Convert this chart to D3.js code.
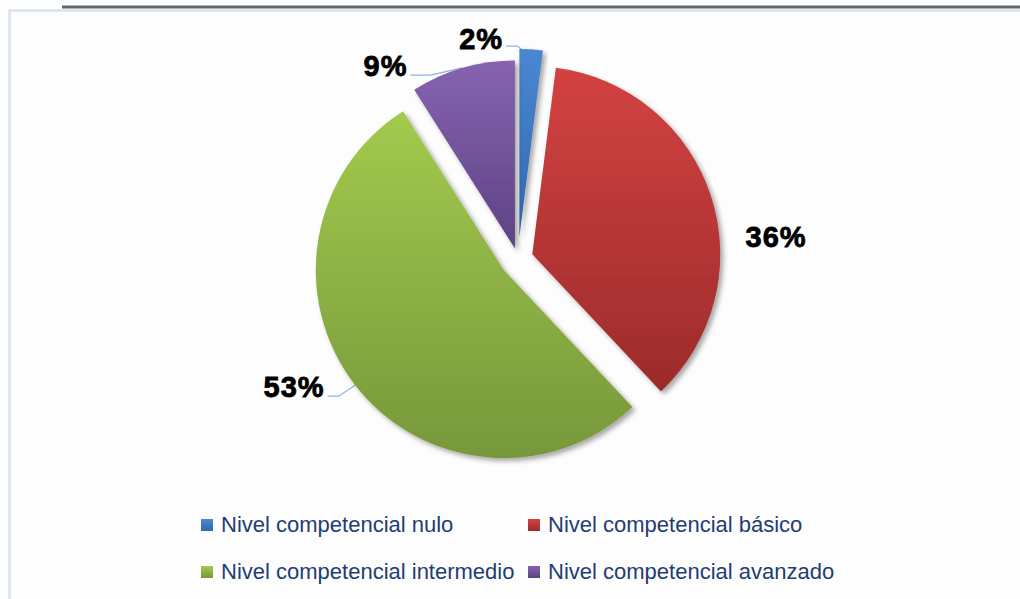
<!DOCTYPE html>
<html>
<head>
<meta charset="utf-8">
<script src="https://cdn.jsdelivr.net/npm/d3@7/dist/d3.min.js"></script>
<style>
  html, body { margin: 0; padding: 0; background: #ffffff; }
  svg { display: block; }
</style>
</head>
<body>
<svg id="chart" width="1020" height="599"></svg>
<script>
// ---- data ----
const categories = [
  "Nivel competencial nulo",
  "Nivel competencial básico",
  "Nivel competencial intermedio",
  "Nivel competencial avanzado"
];
const values = [2, 36, 53, 9];
const valueLabels = ["2%", "36%", "53%", "9%"];

// ---- style / layout (not data) ----
const colorTop    = ["#4b87d2", "#d34242", "#a3ca4e", "#8763b0"];
const colorBottom = ["#2f68b0", "#9c2b2b", "#76983a", "#5d4383"];
const explode     = [22, 15, 18, 11];
// label placement: angle (deg, clockwise from 12 o'clock) and radius from pie center
const labelAngle  = [350.5, 85.2, 240.2, 325.5];
const labelRadius = [223, 259, 258, 234];
const leaderAngle = [0.6, null, null, null]; // null -> mid angle

const W = 1020, H = 599;
const cx = 518, cy = 259, R = 188;

const svg = d3.select("#chart");
const defs = svg.append("defs");

// background frame
svg.append("rect").attr("x", 0).attr("y", 0).attr("width", W).attr("height", H).attr("fill", "#ffffff");
svg.append("rect")
  .attr("x", 9.5).attr("y", 10.5).attr("width", W + 20).attr("height", H + 20)
  .attr("fill", "#fdfdfd").attr("stroke", "#d8e3f2").attr("stroke-width", 2.5);
svg.append("line")
  .attr("x1", 62).attr("x2", W).attr("y1", 7).attr("y2", 7)
  .attr("stroke", "#666666").attr("stroke-width", 3);

// shadow filter
const f = defs.append("filter").attr("id", "shadow")
  .attr("x", "-20%").attr("y", "-20%").attr("width", "140%").attr("height", "140%");
f.append("feDropShadow").attr("dx", 3).attr("dy", 3).attr("stdDeviation", 2.5)
  .attr("flood-color", "#000").attr("flood-opacity", 0.35);

// gradients
categories.forEach((c, i) => {
  const g = defs.append("linearGradient").attr("id", "grad" + i)
    .attr("x1", 0).attr("y1", 0).attr("x2", 0).attr("y2", 1);
  g.append("stop").attr("offset", "0%").attr("stop-color", colorTop[i]);
  g.append("stop").attr("offset", "100%").attr("stop-color", colorBottom[i]);
});

const pie = d3.pie().sort(null).value(d => d)
  .startAngle(0).endAngle(2 * Math.PI);
const arcs = pie(values);
const arc = d3.arc().innerRadius(0).outerRadius(R);

const toRad = d => d * Math.PI / 180;
const polar = (a, r) => [r * Math.sin(a), -r * Math.cos(a)];

const gPie = svg.append("g").attr("transform", `translate(${cx},${cy})`);

// leader lines (drawn under slices)
const gLead = gPie.append("g");

arcs.forEach((a, i) => {
  const mid = (a.startAngle + a.endAngle) / 2;
  const [ox, oy] = polar(mid, explode[i]);
  gPie.append("path")
    .attr("d", arc(a))
    .attr("transform", `translate(${ox},${oy})`)
    .attr("fill", `url(#grad${i})`)
    .attr("filter", "url(#shadow)");
});

// labels
const labelFont = "'Liberation Sans', Arial, sans-serif";
arcs.forEach((a, i) => {
  const mid = (a.startAngle + a.endAngle) / 2;
  const [lx, ly] = polar(toRad(labelAngle[i]), labelRadius[i]);
  const t = gPie.append("text")
    .attr("x", lx).attr("y", ly)
    .attr("text-anchor", "middle")
    .attr("dominant-baseline", "central")
    .attr("font-family", labelFont)
    .attr("font-weight", "bold")
    .attr("font-size", 29)
    .attr("letter-spacing", 1)
    .attr("fill", "#000")
    .attr("stroke", "#000").attr("stroke-width", 0.8)
    .text(valueLabels[i]);

  if (i === 1) return; // 36% sits next to its slice, no leader
  const bb = t.node().getBBox();
  const la = leaderAngle[i] != null ? toRad(leaderAngle[i]) : mid;
  const [ox, oy] = polar(mid, explode[i]);
  const [ex, ey] = polar(la, R);
  const end = [ox + ex, oy + ey];
  const startX = bb.x + bb.width + 3;
  const startY = ly + (i === 0 ? 7 : 9);
  const bendX = startX + (i === 3 ? 20 : 11);
  gLead.append("path")
    .attr("d", `M${startX},${startY} L${bendX},${startY} L${end[0]},${end[1]}`)
    .attr("fill", "none")
    .attr("stroke", "#8db3e2")
    .attr("stroke-width", 1.3);
});
gLead.lower();

// legend
const legendFont = "'Liberation Sans', Arial, sans-serif";
const legendX = [201, 528];
const legendY = [532, 579];
categories.forEach((c, i) => {
  const col = i % 2, row = Math.floor(i / 2);
  const g = svg.append("g").attr("transform", `translate(${legendX[col]},${legendY[row]})`);
  g.append("rect").attr("x", 0).attr("y", -13).attr("width", 12).attr("height", 12)
    .attr("fill", `url(#grad${i})`);
  g.append("text").attr("x", 20).attr("y", 0)
    .attr("font-family", legendFont)
    .attr("font-size", 22)
    .attr("fill", "#1f3d74")
    .text(c);
});
</script>
</body>
</html>
